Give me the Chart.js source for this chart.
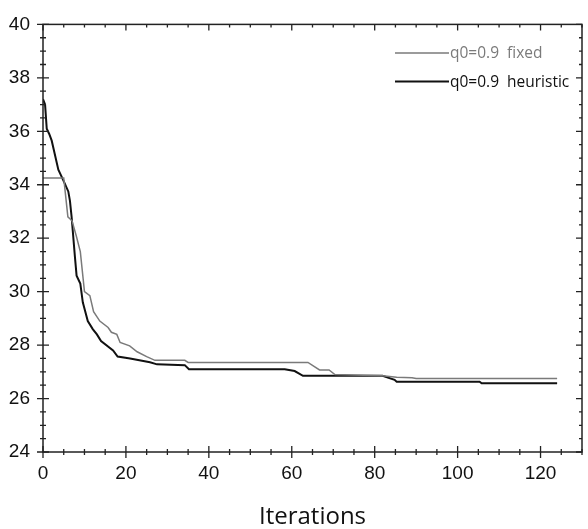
<!DOCTYPE html>
<html>
<head>
<meta charset="utf-8">
<script src="https://cdn.jsdelivr.net/npm/chart.js@4.4.0/dist/chart.umd.min.js"></script>
<style>
  html, body { margin: 0; padding: 0; background: #fff; }
  #wrap { width: 588px; height: 529px; }
</style>
</head>
<body>
<div id="wrap"><canvas id="chart" width="588" height="529"></canvas></div>
<script>
// values
const fixedIter = [0, 5, 6, 7, 8, 9, 9.4, 10, 11.3, 12.2, 13.7, 15.7, 16.5, 17.8, 18.6, 20.9, 22.7, 25, 27, 34.2, 35, 63.9, 66.7, 69, 70.4, 81.9, 85.3, 89, 90, 124];
const fixedCost = [34.25, 34.25, 32.8, 32.65, 32.1, 31.5, 30.9, 30.0, 29.85, 29.25, 28.9, 28.66, 28.48, 28.4, 28.1, 27.97, 27.75, 27.57, 27.43, 27.43, 27.35, 27.35, 27.07, 27.07, 26.9, 26.85, 26.8, 26.78, 26.75, 26.75];

const heurIter = [0, 0.5, 0.9, 1.5, 2.1, 3.7, 5.1, 6.1, 6.5, 6.9, 7.7, 8.1, 9.0, 9.6, 10.8, 12, 13, 14, 16.9, 18, 21, 25.8, 27.5, 34.2, 35.2, 58.3, 60.7, 62.7, 81.9, 84.8, 85.3, 105.3, 105.8, 124];
const heurCost = [37.2, 37.0, 36.1, 35.9, 35.65, 34.56, 34.1, 33.75, 33.4, 32.8, 31.3, 30.6, 30.3, 29.6, 28.9, 28.6, 28.4, 28.15, 27.8, 27.57, 27.5, 27.36, 27.28, 27.25, 27.1, 27.1, 27.03, 26.85, 26.85, 26.7, 26.63, 26.63, 26.57, 26.57];

const seriesNames = ['q0=0.9  fixed', 'q0=0.9  heuristic'];
const xTicks = [0, 20, 40, 60, 80, 100, 120];
const yTicks = [24, 26, 28, 30, 32, 34, 36, 38, 40];

const toPoints = (xs, ys) => xs.map((x, i) => ({ x: x, y: ys[i] }));

// frame with ticks on all four sides, plus the legend
const framePlugin = {
  id: 'frame',
  afterDraw(chart) {
    const ctx = chart.ctx;
    const a = chart.chartArea;
    const xs = chart.scales.x, ys = chart.scales.y;
    ctx.save();
    ctx.strokeStyle = '#222';
    ctx.lineWidth = 1.5;
    ctx.strokeRect(a.left, a.top, a.right - a.left, a.bottom - a.top);
    ctx.lineWidth = 1.3;
    ctx.beginPath();
    for (let v = 0; v <= 130; v += 5) {
      const px = xs.getPixelForValue(v);
      const len = v % 20 === 0 ? 6 : 3;
      ctx.moveTo(px, a.bottom - len); ctx.lineTo(px, a.bottom + len);
      ctx.moveTo(px, a.top); ctx.lineTo(px, a.top + len);
    }
    for (let v = 24; v <= 40; v += 0.5) {
      const py = ys.getPixelForValue(v);
      const len = v % 2 === 0 ? 6 : 3;
      ctx.moveTo(a.left - len, py); ctx.lineTo(a.left + len, py);
      ctx.moveTo(a.right - len, py); ctx.lineTo(a.right, py);
    }
    ctx.stroke();

    // legend
    const items = chart.data.datasets;
    ctx.font = '15.5px "Open Sans"';
    ctx.textBaseline = 'middle';
    items.forEach((ds, i) => {
      const y = 53 + i * 28.5;
      ctx.strokeStyle = ds.borderColor;
      ctx.lineWidth = ds.borderWidth;
      ctx.beginPath();
      ctx.moveTo(395, y); ctx.lineTo(449, y);
      ctx.stroke();
      ctx.fillStyle = ds.borderColor;
      ctx.fillText(ds.label, 450, y + 1);
    });
    ctx.restore();
  }
};

new Chart(document.getElementById('chart').getContext('2d'), {
  type: 'line',
  data: {
    datasets: [{
      label: seriesNames[0],
      data: toPoints(fixedIter, fixedCost),
      borderColor: '#7a7a7a',
      borderWidth: 1.5,
      pointRadius: 0,
      tension: 0,
      fill: false
    }, {
      label: seriesNames[1],
      data: toPoints(heurIter, heurCost),
      borderColor: '#111',
      borderWidth: 2,
      pointRadius: 0,
      tension: 0,
      fill: false
    }]
  },
  options: {
    responsive: false,
    animation: false,
    layout: { padding: { top: 10, right: 6, left: 0, bottom: 0 } },
    plugins: { legend: { display: false }, tooltip: { enabled: false } },
    scales: {
      x: {
        type: 'linear',
        min: 0, max: 130,
        afterBuildTicks: s => { s.ticks = xTicks.map(v => ({ value: v })); },
        afterFit: s => { s.height = 77; },
        grid: { display: false, drawTicks: false },
        border: { display: false },
        ticks: { padding: 10, color: '#111', font: { family: 'Liberation Sans', size: 19 } },
        title: {
          display: true,
          text: 'Iterations',
          color: '#111',
          font: { family: 'Open Sans', size: 24 },
          padding: { top: 0, bottom: -3 }
        }
      },
      y: {
        min: 24, max: 40,
        afterBuildTicks: s => { s.ticks = yTicks.map(v => ({ value: v })); },
        afterFit: s => { s.width = 43; },
        grid: { display: false, drawTicks: false },
        border: { display: false },
        ticks: { padding: 13, color: '#111', font: { family: 'Liberation Sans', size: 19 } }
      }
    }
  },
  plugins: [framePlugin]
});
</script>
</body>
</html>
